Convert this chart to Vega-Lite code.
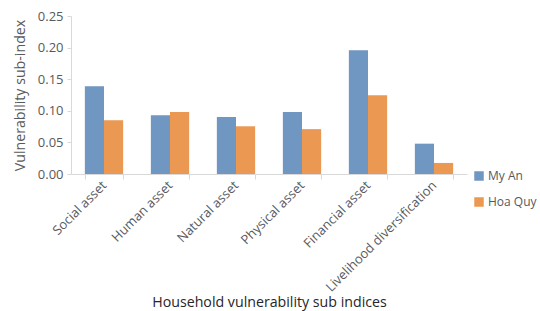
{
  "$schema": "https://vega.github.io/schema/vega-lite/v6.json",
  "width": 396,
  "height": 158,
  "autosize": {"type": "none"},
  "padding": {"left": 71, "top": 16, "right": 73, "bottom": 137},
  "background": "white",
  "config": {
    "view": {"stroke": null},
    "font": "Open Sans",
    "axis": {"labelFont": "Open Sans", "titleFont": "Open Sans", "labelColor": "#595959", "titleColor": "#595959", "labelFontSize": 13, "titleFontSize": 14.2, "titleFontWeight": "normal", "domainColor": "#d9d9d9", "tickColor": "#d9d9d9", "grid": false},
    "legend": {"labelFont": "Open Sans", "labelFontSize": 12, "labelColor": "#595959"}
  },
  "data": {
    "values": [
      {"category": "Social asset", "site": "My An", "value": 0.139},
      {"category": "Social asset", "site": "Hoa Quy", "value": 0.085},
      {"category": "Human asset", "site": "My An", "value": 0.093},
      {"category": "Human asset", "site": "Hoa Quy", "value": 0.098},
      {"category": "Natural asset", "site": "My An", "value": 0.090},
      {"category": "Natural asset", "site": "Hoa Quy", "value": 0.0755},
      {"category": "Physical asset", "site": "My An", "value": 0.098},
      {"category": "Physical asset", "site": "Hoa Quy", "value": 0.071},
      {"category": "Financial asset", "site": "My An", "value": 0.196},
      {"category": "Financial asset", "site": "Hoa Quy", "value": 0.1245},
      {"category": "Livelihood diversification", "site": "My An", "value": 0.048},
      {"category": "Livelihood diversification", "site": "Hoa Quy", "value": 0.0175}
    ]
  },
  "mark": {"type": "bar"},
  "encoding": {
    "x": {
      "field": "category",
      "type": "nominal",
      "sort": null,
      "scale": {"paddingInner": 0.42, "paddingOuter": 0.21},
      "axis": {"title": "Household vulnerability sub indices", "titleColor": "#262626", "labelAngle": -45, "labelAlign": "right", "labelBaseline": "middle", "tickBand": "extent", "tickSize": 5, "labelPadding": 4, "titlePadding": 1}
    },
    "xOffset": {"field": "site", "type": "nominal", "sort": ["My An", "Hoa Quy"]},
    "y": {
      "field": "value",
      "type": "quantitative",
      "scale": {"domain": [0, 0.25], "nice": false},
      "axis": {"title": "Vulnerability sub-index", "values": [0, 0.05, 0.1, 0.15, 0.2, 0.25], "format": ".2f", "tickSize": 4, "labelPadding": 4, "titlePadding": 10}
    },
    "color": {
      "field": "site",
      "type": "nominal",
      "sort": ["My An", "Hoa Quy"],
      "scale": {"domain": ["My An", "Hoa Quy"], "range": ["#7096c2", "#eb9852"]},
      "legend": {"title": null, "orient": "none", "legendX": 402, "legendY": 154, "symbolType": "square", "symbolSize": 90, "rowPadding": 14, "labelOffset": 3}
    }
  }
}
